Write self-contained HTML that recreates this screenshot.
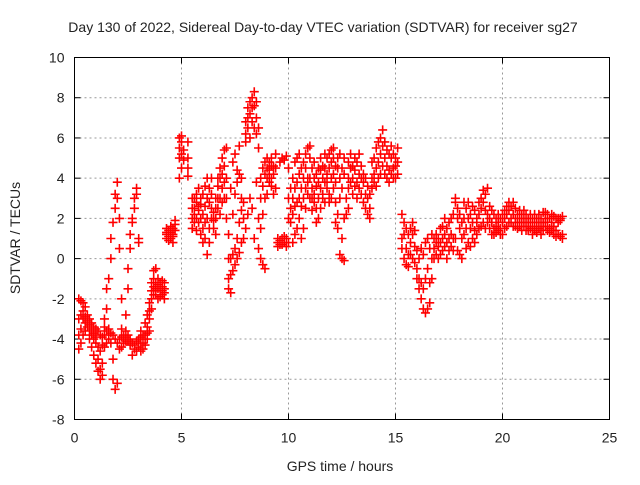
<!DOCTYPE html>
<html><head><meta charset="utf-8"><style>
body{margin:0;background:#fff}
svg text{font-family:"Liberation Sans",sans-serif;font-size:14px;fill:#222}
</style></head><body>
<svg id="chart" width="640" height="480" viewBox="0 0 640 480" xmlns="http://www.w3.org/2000/svg">
<rect width="640" height="480" fill="#fff"/>
<text x="323" y="32" text-anchor="middle">Day 130 of 2022, Sidereal Day-to-day VTEC variation (SDTVAR) for receiver sg27</text>
<g id="grid"></g>
<g id="ticks"></g>
<g id="marks"></g>
<rect x="74.5" y="57.5" width="535" height="362" fill="none" stroke="#000" stroke-width="1"/>
<text x="340" y="471" text-anchor="middle">GPS time / hours</text>
<text transform="translate(20,238) rotate(-90)" text-anchor="middle">SDTVAR / TECUs</text>
</svg>
<script>
const xTicks=[0,5,10,15,20,25];
const yTicks=[-8,-6,-4,-2,0,2,4,6,8,10];
const hours=[0.2,0.3,0.4,0.5,0.6,0.7,0.8,0.9,1.0,1.1,1.2,1.3,1.4,1.5,1.6,1.7,1.8,1.9,2.0,2.1,2.2,2.3,2.4,2.5,2.6,2.7,2.8,2.9,3.0,3.1,3.2,3.3,3.4,3.5,3.6,3.7,3.8,3.9,4.0,4.1,4.2,4.3,4.4,4.5,4.6,4.7,4.9,5.0,5.1,5.3,5.5,5.6,5.7,5.8,5.9,6.0,6.1,6.2,6.3,6.4,6.5,6.6,6.7,6.8,6.9,7.0,7.1,7.2,7.3,7.4,7.5,7.6,7.7,7.8,7.9,8.0,8.1,8.2,8.3,8.4,8.5,8.6,8.7,8.8,8.9,9.0,9.1,9.2,9.3,9.4,9.5,9.6,9.7,9.8,9.9,10.0,10.1,10.2,10.3,10.4,10.5,10.6,10.7,10.8,10.9,11.0,11.1,11.2,11.3,11.4,11.5,11.6,11.7,11.8,11.9,12.0,12.1,12.2,12.3,12.4,12.5,12.6,12.7,12.8,12.9,13.0,13.1,13.2,13.3,13.4,13.5,13.6,13.7,13.8,13.9,14.0,14.1,14.2,14.3,14.4,14.5,14.6,14.7,14.8,14.9,15.0,15.1,15.3,15.4,15.5,15.6,15.7,15.8,15.9,16.0,16.1,16.2,16.3,16.4,16.5,16.6,16.7,16.8,16.9,17.0,17.1,17.2,17.3,17.4,17.5,17.6,17.7,17.8,17.9,18.0,18.1,18.2,18.3,18.4,18.5,18.6,18.7,18.8,18.9,19.0,19.1,19.2,19.3,19.4,19.5,19.6,19.7,19.8,19.9,20.0,20.1,20.2,20.3,20.4,20.5,20.6,20.7,20.8,20.9,21.0,21.1,21.2,21.3,21.4,21.5,21.6,21.7,21.8,21.9,22.0,22.1,22.2,22.3,22.4,22.5,22.6,22.7,22.8];
const sdtvar=[[-2,-3,-4.5,-3.8],[-2.1,-2.8,-3.5,-4.2],[-2.2,-3,-3.8,-2.6],[-2.4,-3.2,-3.6,-2.9],[-2.8,-3.4,-3.1],[-3,-3.6,-4,-3.3],[-3.2,-3.8,-4.4,-3.5],[-3.4,-4,-4.8,-3.7],[-3.5,-4.2,-5.2,-3.9],[-3.6,-5,-5.6,-4.4],[-3.8,-5.5,-6,-4.6],[-3.9,-5.2,-5.8,-4.3],[-3.8,-4.4,-3,-3.4],[-3.6,-2.5,-4.2,-1.5],[-3.5,-1,-4,-3.8],[-3.7,0,-4.2,1],[-3.8,1.8,-5,-6],[-4,2.5,-6.5,3.2],[-4.2,3.8,-6.2,3],[-4,2,-4.5,0.5],[-4.4,-3.5,-2,-3.9],[-3.8,-4.2,-4],[-3.6,-4.1,-2.8,-3.9],[-3.8,-1.5,-0.5,-4.1],[-4,0.5,1.2,-4.3],[-4.2,1.8,2,-4.8],[-4.3,2.5,3,-4.5],[-4.1,3.2,3.5,-4.6],[-4,1,0.8,-4.4],[-4.2,-4.6,-3.6,-3.9],[-4,-3.8,-4.5,-4.2],[-3.8,-3.2,-4.3,-4],[-3.4,-4,-2.8,-3.7],[-3,-3.6,-2.2,-2.6],[-2.5,-1.6,-1.2,-2],[-1.4,-1,-0.6,-1.8],[-1.2,-0.5,-1.8,-1.5],[-1,-1.5,-2,-1.3],[-1.2,-1.6,-1.9,-1.4],[-1.4,-1.8,-1.1,-1.6],[-1.5,-1.7,-2,-1.2],[1.5,1.2,1,1.3],[1.4,1.1,0.9,1.2],[1.3,1,1.6,1.4],[1.5,0.8,1.2,1.1],[1.7,1.9,1.4],[4,5,5.5,6],[5.2,5.8,6.1,4.5],[5.4,4.9],[4.5,5,5.8,4.1],[2,2.5,3,1.5],[2.5,3,2.2,1.8],[2.8,3.2,2,1.4],[2.4,3.5,1.8,2.6],[2,3,1.2,2.7],[2.2,3.2,1.5,0.8],[2.6,3.6,1.8,1],[3,4,0.2,2],[2.8,3.5,0.8,1.5],[3.2,4,2.5,2],[1.5,2.3,1.9],[2,2.5,1.2,3],[2.5,3,3.6,4],[3,4,4.5,2.2],[3.5,4.2,5,2.8],[3.8,4.6,5.4,3],[2,3,4,5.5],[-1,-1.5,0,1.2],[-1.7,-0.8,0,3.5],[-0.6,0.2,2.2,4.8],[-0.3,0.5,3.2,5.2],[0,1,3.8,4.4],[0.3,1.8,4.2,5.6],[0.8,2.4,3,4],[1,2,2.8],[1.5,6.2,6.8,5.8],[6.5,7,7.5,2.2],[6,7.2,7.8,3],[7.5,8,6.8,2.5],[7.6,8.3,6.5,1],[7,7.8,6.2,3.8],[5.5,6.5,0.5,2],[1.5,3,4,0],[2.2,3.6,4.5,-0.3],[3,4.2,4.8,-0.5],[4,4.5,5,3.2],[3.8,4.2,4.8,4.4],[3.6,4,4.6,5],[3.2,4.2,4.6],[3.5,4.5,5.2],[0.8,0.6,1],[0.9,0.7,4.8],[0.7,1,5],[0.8,1.1,4.9],[1,0.6,5.1],[2,3,4.5,0.8],[2.5,1.8,3.5],[3,2.2,4,0.8],[3.5,2.6,1.2,4.8],[2.8,3.8,1.5,5],[3,4.2,2,5.2],[3.5,4.5,2.6,1],[4,4.8,3,1.5],[4.5,5.2,3.5,2.5],[3.8,5.5,4,3.2],[3,4,5,5.6],[3.5,4.5,3,2.4],[4,4.8,3.2,2.8],[3.6,4.2,2.5,1.8],[3,3.8,4.5,2],[3.5,4.4,5,2.5],[4,4.6,3.2,3],[4.5,5.2,3.8,2.8],[3.8,4.2,5,3.5],[3.2,4.5,5.2,2.8],[4,4.8,5.4,3],[4.2,5,5.5,3.5],[3.8,4.6,2.8,1.8],[4.5,5,2.2,1.5],[4,5.2,3,0.2],[3.5,4.5,1,0],[4.2,5,2,-0.1],[3,2.2],[3.5,4,4.8,2.5],[3.8,4.5,5.2],[3.2,4,4.6],[3.6,4.4,5],[3,3.8,4.8],[3.5,4.2,5.2],[4,4.6,3.2],[3.8,4.2,2.8],[3.2,4,2.5],[3,3.6,2.2],[2.5,3.2,2],[4,4.8,3.5],[4.2,5,3.8],[4.5,5.5,3.6],[4.8,5.8,4],[4.2,5.2,6],[4.6,5.6,6.4],[4.2,5,5.8],[4,4.6,5.4],[3.8,4.4,5.2],[4.2,5,5.6],[4.5,5.2,4],[4,4.6,5],[4.2,4.8,5.5],[2.2,1,0.5],[1.8,1.2,0],[1.5,0.5,-0.3],[1.2,0.2,-0.4],[1.5,0.8,0.2],[1.2,0,1.8],[0.6,-0.2,1.4],[0.4,-0.5,-1],[0,-1,-1.5],[0.5,-1.2,-2],[0.2,-1.5,-2.5],[0.8,-1,-2.7],[1,-0.5,-2.5],[0.5,-1.2,-2.2],[1.2,0,-1],[1,0.5,0],[1.2,0.2,0.8],[1,0,0.6],[0.8,1.5,0.2],[1,0.4,1.6],[1.2,0.6,2],[0.8,1.5,0],[1,0.4,1.8],[0.6,1.2,2],[0.4,1,2.2],[3,2.8,1],[2.5,2,0.4],[2.2,1.5,0.2],[1.8,1,0],[2,1.2,2.8],[2.5,1.5,0.5],[2.8,2,0.8],[2.2,1.5,0.6],[2.6,1.8,1],[2.4,1.4,0.8],[2,1.2,1.8],[2.2,1.5,2.8],[2.5,3,1.6],[2.8,3.4,1.8],[2.4,3.2,1.5],[2.2,1.8,3.5],[2,1.5,2.6],[1.8,1.2,2.4],[1.5,1.2,2.2],[1.6,2,1.3],[1.4,1.8,2.2],[1.5,2,1.2],[1.8,1.2,2.2],[2,2.4,1.5],[2.2,1.6,2.6],[2.4,1.8,2.8],[2.6,2,1.8],[2.2,2.8,1.6],[2,2.5,1.6],[1.8,2.2,1.5],[2.4,1.6,2],[2.2,1.8,1.4],[2,1.6,2.4],[1.8,1.4,2.2],[1.6,2,1.4],[1.5,1.8,2.2],[1.6,2,1.2],[1.8,2.2,1.4],[2,1.6,1.3],[1.8,1.5,2.2],[1.6,2,1.2],[1.8,1.4,2.3],[2,2.3,1.6],[2.2,1.8,1.4],[2,1.5,1.3],[1.8,1.4,2.2],[2.1,1.6,1.2],[2,1.4,1.1],[1.8,1.2,2],[2,1.1,1.9],[2.1,1.2,1]];
const NS="http://www.w3.org/2000/svg";
const L=74.5,R=609.5,T=57.5,B=419.5;
function xs(h){return L+(h-0)/(25-0)*(R-L);}
function ys(v){return B-(v+8)/(10+8)*(B-T);}
const grid=document.getElementById('grid'),ticks=document.getElementById('ticks'),marks=document.getElementById('marks');
function mk(tag,attrs,parent){const e=document.createElementNS(NS,tag);for(const k in attrs)e.setAttribute(k,attrs[k]);parent.appendChild(e);return e;}
xTicks.forEach(t=>{
  const x=xs(t);
  if(t>0&&t<25){const g=mk('line',{x1:x,x2:x,y1:T,y2:B,stroke:'#999','stroke-dasharray':'2,3'},grid);
  
  }
  mk('line',{x1:x,x2:x,y1:B,y2:B-6,stroke:'#000'},ticks);
  mk('line',{x1:x,x2:x,y1:T,y2:T+6,stroke:'#000'},ticks);
  const lb=mk('text',{x:x,y:B+23,'text-anchor':'middle'},ticks);lb.textContent=t;
  
  
});
yTicks.forEach(t=>{
  const y=ys(t);
  if(t>-8&&t<10){const g=mk('line',{x1:L,x2:R,y1:y,y2:y,stroke:'#999','stroke-dasharray':'2,3'},grid);
  
  }
  mk('line',{x1:L,x2:L+6,y1:y,y2:y,stroke:'#000'},ticks);
  mk('line',{x1:R,x2:R-6,y1:y,y2:y,stroke:'#000'},ticks);
  const lb=mk('text',{x:L-10,y:y+5,'text-anchor':'end'},ticks);lb.textContent=t;
  
  
});
let d='';
hours.forEach((h,i)=>{
  sdtvar[i].forEach(v=>{
    const x=xs(h),y=ys(v);
    d+=`M${x-4.5},${y}h9M${x},${y-4.5}v9`;
  });
});
const p=mk('path',{d:d,stroke:'#f00','stroke-width':1.6,fill:'none'},marks);


</script>
</body></html>
